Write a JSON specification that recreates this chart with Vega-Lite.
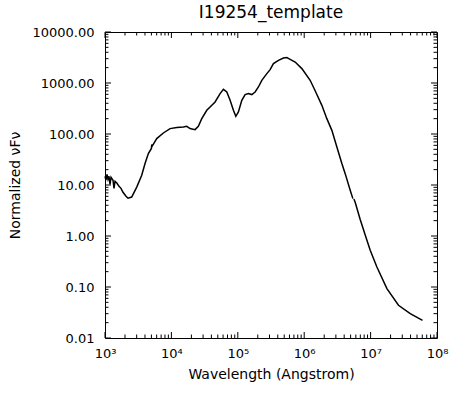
{
  "$schema": "https://vega.github.io/schema/vega-lite/v6.json",
  "width": 332,
  "height": 306,
  "autosize": "none",
  "padding": {"left": 105, "top": 32, "right": 35, "bottom": 56},
  "background": "white",
  "title": {"text": "I19254_template", "font": "DejaVu Sans", "fontSize": 17, "fontWeight": "normal", "color": "black", "anchor": "middle", "baseline": "alphabetic", "offset": 7, "dy": 16},
  "config": {
    "view": {"stroke": "black", "strokeWidth": 1},
    "axis": {"grid": false, "domain": false, "ticks": false, "labelColor": "black", "labelFont": "DejaVu Sans", "labelFontSize": 13, "titleFont": "DejaVu Sans", "titleFontSize": 14, "titleFontWeight": "normal", "titleColor": "black", "labelFlush": false, "labelOverlap": false}
  },
  "datasets": {
    "sed": [
      {"w": 1000, "f": 14.8, "seg": "a"},
      {"w": 1035, "f": 12.4, "seg": "a"},
      {"w": 1072, "f": 16.2, "seg": "a"},
      {"w": 1110, "f": 12.9, "seg": "a"},
      {"w": 1149, "f": 14.8, "seg": "a"},
      {"w": 1190, "f": 10.3, "seg": "a"},
      {"w": 1232, "f": 14.2, "seg": "a"},
      {"w": 1320, "f": 12.4, "seg": "a"},
      {"w": 1367, "f": 8.6, "seg": "a"},
      {"w": 1415, "f": 11.8, "seg": "a"},
      {"w": 1517, "f": 10.8, "seg": "a"},
      {"w": 1626, "f": 9.4, "seg": "a"},
      {"w": 1742, "f": 8.6, "seg": "a"},
      {"w": 1867, "f": 7.2, "seg": "a"},
      {"w": 2073, "f": 6.0, "seg": "a"},
      {"w": 2222, "f": 5.5, "seg": "a"},
      {"w": 2524, "f": 5.8, "seg": "a"},
      {"w": 3005, "f": 9.1, "seg": "a"},
      {"w": 3573, "f": 15.5, "seg": "a"},
      {"w": 4008, "f": 26.3, "seg": "a"},
      {"w": 4497, "f": 41.3, "seg": "a"},
      {"w": 5000, "f": 52.0, "seg": "a"},
      {"w": 5058, "f": 62.0, "seg": "a"},
      {"w": 5150, "f": 58.0, "seg": "a"},
      {"w": 6012, "f": 81.3, "seg": "a"},
      {"w": 7563, "f": 104.7, "seg": "a"},
      {"w": 9546, "f": 127.6, "seg": "a"},
      {"w": 12050, "f": 133.4, "seg": "a"},
      {"w": 15140, "f": 137.1, "seg": "a"},
      {"w": 17030, "f": 141.6, "seg": "a"},
      {"w": 19090, "f": 127.6, "seg": "a"},
      {"w": 22700, "f": 121.9, "seg": "a"},
      {"w": 25460, "f": 141.6, "seg": "a"},
      {"w": 28660, "f": 200.4, "seg": "a"},
      {"w": 34100, "f": 291.6, "seg": "a"},
      {"w": 38250, "f": 338, "seg": "a"},
      {"w": 45500, "f": 424, "seg": "a"},
      {"w": 54100, "f": 619, "seg": "a"},
      {"w": 60700, "f": 752, "seg": "a"},
      {"w": 68300, "f": 666, "seg": "a"},
      {"w": 76600, "f": 458, "seg": "a"},
      {"w": 85900, "f": 292, "seg": "a"},
      {"w": 93400, "f": 222, "seg": "a"},
      {"w": 102100, "f": 270, "seg": "a"},
      {"w": 114900, "f": 458, "seg": "a"},
      {"w": 128800, "f": 593, "seg": "a"},
      {"w": 144400, "f": 620, "seg": "a"},
      {"w": 162500, "f": 593, "seg": "a"},
      {"w": 182300, "f": 666, "seg": "a"},
      {"w": 204400, "f": 835, "seg": "a"},
      {"w": 229900, "f": 1130, "seg": "a"},
      {"w": 273600, "f": 1528, "seg": "a"},
      {"w": 306800, "f": 1831, "seg": "a"},
      {"w": 344200, "f": 2401, "seg": "a"},
      {"w": 409500, "f": 2786, "seg": "a"},
      {"w": 486700, "f": 3093, "seg": "a"},
      {"w": 547900, "f": 3147, "seg": "a"},
      {"w": 614200, "f": 2915, "seg": "a"},
      {"w": 730800, "f": 2582, "seg": "a"},
      {"w": 922000, "f": 1916, "seg": "a"},
      {"w": 1229000, "f": 1130, "seg": "a"},
      {"w": 1462000, "f": 706, "seg": "a"},
      {"w": 1844000, "f": 365, "seg": "a"},
      {"w": 2193000, "f": 200, "seg": "a"},
      {"w": 2610000, "f": 118, "seg": "a"},
      {"w": 3105000, "f": 55.6, "seg": "a"},
      {"w": 3692000, "f": 26.3, "seg": "a"},
      {"w": 4142000, "f": 16.7, "seg": "a"},
      {"w": 4929000, "f": 7.87, "seg": "a"},
      {"w": 5408000, "f": 5.41, "seg": "a"},
      {"w": 5600000, "f": 5.3, "seg": "b"},
      {"w": 5857000, "f": 4.6, "seg": "b"},
      {"w": 6972000, "f": 2.1, "seg": "b"},
      {"w": 8292000, "f": 1.05, "seg": "b"},
      {"w": 9866000, "f": 0.525, "seg": "b"},
      {"w": 12440000, "f": 0.247, "seg": "b"},
      {"w": 17610000, "f": 0.0931, "seg": "b"},
      {"w": 26300000, "f": 0.0438, "seg": "b"},
      {"w": 39540000, "f": 0.0301, "seg": "b"},
      {"w": 60530000, "f": 0.0222, "seg": "b"}
    ],
    "xt": [
      {"t": 1000, "major": 1}, {"t": 2000, "major": 0}, {"t": 3000, "major": 0}, {"t": 4000, "major": 0}, {"t": 5000, "major": 0}, {"t": 6000, "major": 0}, {"t": 7000, "major": 0}, {"t": 8000, "major": 0}, {"t": 9000, "major": 0},
      {"t": 10000, "major": 1}, {"t": 20000, "major": 0}, {"t": 30000, "major": 0}, {"t": 40000, "major": 0}, {"t": 50000, "major": 0}, {"t": 60000, "major": 0}, {"t": 70000, "major": 0}, {"t": 80000, "major": 0}, {"t": 90000, "major": 0},
      {"t": 100000, "major": 1}, {"t": 200000, "major": 0}, {"t": 300000, "major": 0}, {"t": 400000, "major": 0}, {"t": 500000, "major": 0}, {"t": 600000, "major": 0}, {"t": 700000, "major": 0}, {"t": 800000, "major": 0}, {"t": 900000, "major": 0},
      {"t": 1000000, "major": 1}, {"t": 2000000, "major": 0}, {"t": 3000000, "major": 0}, {"t": 4000000, "major": 0}, {"t": 5000000, "major": 0}, {"t": 6000000, "major": 0}, {"t": 7000000, "major": 0}, {"t": 8000000, "major": 0}, {"t": 9000000, "major": 0},
      {"t": 10000000, "major": 1}, {"t": 20000000, "major": 0}, {"t": 30000000, "major": 0}, {"t": 40000000, "major": 0}, {"t": 50000000, "major": 0}, {"t": 60000000, "major": 0}, {"t": 70000000, "major": 0}, {"t": 80000000, "major": 0}, {"t": 90000000, "major": 0},
      {"t": 100000000, "major": 1}
    ],
    "yt": [
      {"t": 0.01, "major": 1}, {"t": 0.02, "major": 0}, {"t": 0.03, "major": 0}, {"t": 0.04, "major": 0}, {"t": 0.05, "major": 0}, {"t": 0.06, "major": 0}, {"t": 0.07, "major": 0}, {"t": 0.08, "major": 0}, {"t": 0.09, "major": 0},
      {"t": 0.1, "major": 1}, {"t": 0.2, "major": 0}, {"t": 0.3, "major": 0}, {"t": 0.4, "major": 0}, {"t": 0.5, "major": 0}, {"t": 0.6, "major": 0}, {"t": 0.7, "major": 0}, {"t": 0.8, "major": 0}, {"t": 0.9, "major": 0},
      {"t": 1, "major": 1}, {"t": 2, "major": 0}, {"t": 3, "major": 0}, {"t": 4, "major": 0}, {"t": 5, "major": 0}, {"t": 6, "major": 0}, {"t": 7, "major": 0}, {"t": 8, "major": 0}, {"t": 9, "major": 0},
      {"t": 10, "major": 1}, {"t": 20, "major": 0}, {"t": 30, "major": 0}, {"t": 40, "major": 0}, {"t": 50, "major": 0}, {"t": 60, "major": 0}, {"t": 70, "major": 0}, {"t": 80, "major": 0}, {"t": 90, "major": 0},
      {"t": 100, "major": 1}, {"t": 200, "major": 0}, {"t": 300, "major": 0}, {"t": 400, "major": 0}, {"t": 500, "major": 0}, {"t": 600, "major": 0}, {"t": 700, "major": 0}, {"t": 800, "major": 0}, {"t": 900, "major": 0},
      {"t": 1000, "major": 1}, {"t": 2000, "major": 0}, {"t": 3000, "major": 0}, {"t": 4000, "major": 0}, {"t": 5000, "major": 0}, {"t": 6000, "major": 0}, {"t": 7000, "major": 0}, {"t": 8000, "major": 0}, {"t": 9000, "major": 0},
      {"t": 10000, "major": 1}
    ]
  },
  "resolve": {"axis": {"x": "independent", "y": "independent"}},
  "layer": [
    {
      "data": {"name": "sed"},
      "mark": {"type": "line", "color": "black", "strokeWidth": 1.5},
      "encoding": {
        "detail": {"field": "seg", "type": "nominal"},
        "x": {"field": "w", "type": "quantitative", "scale": {"type": "log", "domain": [1000, 100000000], "nice": false},
          "axis": {"orient": "bottom", "values": [1000, 10000, 100000, 1000000, 10000000, 100000000], "labelExpr": "'10' + ['⁰','¹','²','³','⁴','⁵','⁶','⁷','⁸','⁹'][round(log(datum.value)/LN10)]", "labelPadding": 9, "labelBaseline": "top", "title": "Wavelength (Angstrom)", "titleBaseline": "alphabetic", "titleY": 40}},
        "y": {"field": "f", "type": "quantitative", "scale": {"type": "log", "domain": [0.01, 10000], "nice": false},
          "axis": {"orient": "left", "values": [0.01, 0.1, 1, 10, 100, 1000, 10000], "format": ".2f", "labelPadding": 11, "title": "Normalized νFν", "titleAngle": 270, "titleBaseline": "alphabetic", "titleAlign": "center", "titleX": -86, "titleY": 153}}
      }
    },
    {
      "data": {"name": "xt"}, "transform": [{"filter": "datum.major == 1"}],
      "mark": {"type": "rule", "color": "black", "strokeWidth": 1},
      "encoding": {"x": {"field": "t", "type": "quantitative", "axis": null}, "y": {"datum": 0.01, "type": "quantitative", "axis": null}, "y2": {"datum": 0.01311}}
    },
    {
      "data": {"name": "xt"}, "transform": [{"filter": "datum.major == 0"}],
      "mark": {"type": "rule", "color": "black", "strokeWidth": 1},
      "encoding": {"x": {"field": "t", "type": "quantitative", "axis": null}, "y": {"datum": 0.01, "type": "quantitative", "axis": null}, "y2": {"datum": 0.01171}}
    },
    {
      "data": {"name": "xt"}, "transform": [{"filter": "datum.major == 1"}],
      "mark": {"type": "rule", "color": "black", "strokeWidth": 1},
      "encoding": {"x": {"field": "t", "type": "quantitative", "axis": null}, "y": {"datum": 10000, "type": "quantitative", "axis": null}, "y2": {"datum": 7628}}
    },
    {
      "data": {"name": "xt"}, "transform": [{"filter": "datum.major == 0"}],
      "mark": {"type": "rule", "color": "black", "strokeWidth": 1},
      "encoding": {"x": {"field": "t", "type": "quantitative", "axis": null}, "y": {"datum": 10000, "type": "quantitative", "axis": null}, "y2": {"datum": 8540}}
    },
    {
      "data": {"name": "yt"}, "transform": [{"filter": "datum.major == 1"}],
      "mark": {"type": "rule", "color": "black", "strokeWidth": 1},
      "encoding": {"y": {"field": "t", "type": "quantitative", "axis": null}, "x": {"datum": 1000, "type": "quantitative", "axis": null}, "x2": {"datum": 1231}}
    },
    {
      "data": {"name": "yt"}, "transform": [{"filter": "datum.major == 0"}],
      "mark": {"type": "rule", "color": "black", "strokeWidth": 1},
      "encoding": {"y": {"field": "t", "type": "quantitative", "axis": null}, "x": {"datum": 1000, "type": "quantitative", "axis": null}, "x2": {"datum": 1129}}
    },
    {
      "data": {"name": "yt"}, "transform": [{"filter": "datum.major == 1"}],
      "mark": {"type": "rule", "color": "black", "strokeWidth": 1},
      "encoding": {"y": {"field": "t", "type": "quantitative", "axis": null}, "x": {"datum": 100000000, "type": "quantitative", "axis": null}, "x2": {"datum": 81230000}}
    },
    {
      "data": {"name": "yt"}, "transform": [{"filter": "datum.major == 0"}],
      "mark": {"type": "rule", "color": "black", "strokeWidth": 1},
      "encoding": {"y": {"field": "t", "type": "quantitative", "axis": null}, "x": {"datum": 100000000, "type": "quantitative", "axis": null}, "x2": {"datum": 88570000}}
    }
  ]
}
